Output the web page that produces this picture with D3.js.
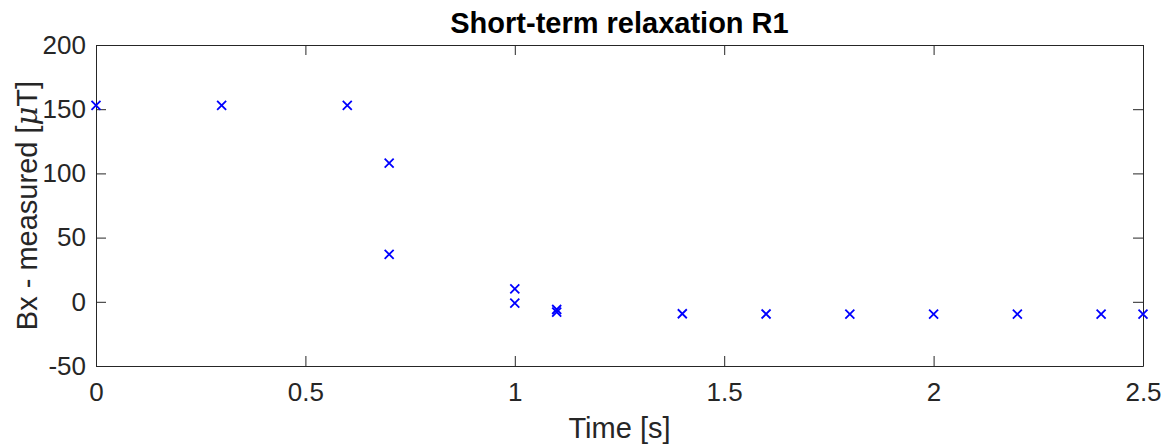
<!DOCTYPE html>
<html>
<head>
<meta charset="utf-8">
<script src="https://cdn.jsdelivr.net/npm/d3@7"></script>
<style>
  html, body { margin: 0; padding: 0; background: #fff; }
  svg { display: block; font-family: "Liberation Sans", Arial, Helvetica, sans-serif; }
</style>
</head>
<body>
<svg id="chart" width="1168" height="447"></svg>
<script>
// Measured Bx samples during the short-term relaxation
const timeS = [0, 0.3, 0.6, 0.7, 0.7, 1.0, 1.0, 1.1, 1.1, 1.4, 1.6, 1.8, 2.0, 2.2, 2.4, 2.5];
const bxMicroT = [153, 153, 153, 108, 37, 10, -1, -6, -8, -9.3, -9.5, -9.6, -9.6, -9.6, -9.6, -9.6];

const xTicks = [0, 0.5, 1, 1.5, 2, 2.5];
const yTicks = [-50, 0, 50, 100, 150, 200];
const xDomain = [0, 2.5];
const yDomain = [-50, 200];

const svg = d3.select("#chart");
const margin = { left: 96, right: 25, top: 45, bottom: 81 };
const W = 1168, H = 447;
const x = d3.scaleLinear().domain(xDomain).range([margin.left, W - margin.right]);
const y = d3.scaleLinear().domain(yDomain).range([H - margin.bottom, margin.top]);

const axisColor = "#262626";
const tickLen = 10;
const fmt = d => String(d); // plain hyphen-minus like "-50"

// Bottom and left axes with inward ticks
const gx = svg.append("g").attr("transform", `translate(0,${y(yDomain[0])})`)
  .call(d3.axisBottom(x).tickValues(xTicks).tickSizeInner(-tickLen).tickSizeOuter(0)
    .tickPadding(17).tickFormat(fmt));
const gy = svg.append("g").attr("transform", `translate(${x(xDomain[0])},0)`)
  .call(d3.axisLeft(y).tickValues(yTicks).tickSizeInner(-tickLen).tickSizeOuter(0)
    .tickPadding(10).tickFormat(fmt));
// Mirrored top and right axes (box)
const gt = svg.append("g").attr("transform", `translate(0,${y(yDomain[1])})`)
  .call(d3.axisTop(x).tickValues(xTicks).tickSizeInner(-tickLen).tickSizeOuter(0).tickFormat(""));
const gr = svg.append("g").attr("transform", `translate(${x(xDomain[1])},0)`)
  .call(d3.axisRight(y).tickValues(yTicks).tickSizeInner(-tickLen).tickSizeOuter(0).tickFormat(""));

[gx, gy, gt, gr].forEach(g => {
  g.attr("font-size", 26).attr("font-family", "'Liberation Sans', Arial, sans-serif");
  g.select(".domain").attr("stroke", axisColor).attr("stroke-width", 1);
  g.selectAll(".tick line").attr("stroke", axisColor).attr("stroke-width", 1);
  g.selectAll(".tick text").attr("fill", axisColor);
});

// Markers: blue crosses
const s = 4.5;
const pts = svg.append("g").attr("stroke", "#0000ff").attr("stroke-width", 1.8);
pts.selectAll("path").data(timeS.map((t, i) => [t, bxMicroT[i]])).join("path")
  .attr("d", d => {
    const cx = x(d[0]), cy = y(d[1]);
    return `M${cx - s},${cy - s}L${cx + s},${cy + s}M${cx - s},${cy + s}L${cx + s},${cy - s}`;
  });

// Title
svg.append("text").attr("x", (x(xDomain[0]) + x(xDomain[1])) / 2).attr("y", 33)
  .attr("text-anchor", "middle").attr("font-size", 29).attr("font-weight", "bold")
  .attr("fill", "#000").text("Short-term relaxation R1");

// Axis labels
svg.append("text").attr("x", (x(xDomain[0]) + x(xDomain[1])) / 2).attr("y", 438)
  .attr("text-anchor", "middle").attr("font-size", 29).attr("fill", axisColor).text("Time [s]");

const yl = svg.append("text")
  .attr("transform", `translate(37,${(y(yDomain[0]) + y(yDomain[1])) / 2}) rotate(-90)`)
  .attr("text-anchor", "middle").attr("font-size", 29).attr("fill", axisColor);
yl.append("tspan").text("Bx - measured [");
yl.append("tspan").attr("font-style", "italic").attr("font-family", "'DejaVu Serif', serif").text("μ");
yl.append("tspan").text("T]");
</script>
</body>
</html>
